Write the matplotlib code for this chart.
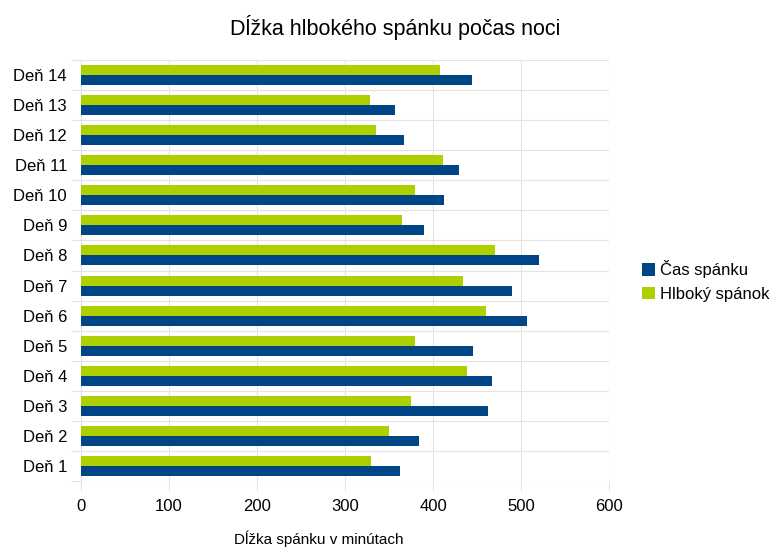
import matplotlib
matplotlib.use("Agg")
import matplotlib.pyplot as plt
import numpy as np

plt.rcParams['font.family'] = ['Liberation Sans', 'DejaVu Sans']

days = ["Deň 1", "Deň 2", "Deň 3", "Deň 4", "Deň 5", "Deň 6", "Deň 7",
        "Deň 8", "Deň 9", "Deň 10", "Deň 11", "Deň 12", "Deň 13", "Deň 14"]
cas_spanku = [362, 384, 463, 467, 445, 507, 490, 521, 390, 412, 430, 367, 357, 444]
hlboky_spanok = [329, 350, 375, 439, 380, 460, 434, 471, 365, 379, 411, 335, 328, 408]
x_ticks = [0, 100, 200, 300, 400, 500, 600]

blue = "#004586"
green = "#aecf00"
grid_col = "#e3e3e3"

fig = plt.figure(figsize=(7.78, 5.47), dpi=100)
ax = fig.add_axes([81/778, 1-481/547, (609-81)/778, (481-60)/547])

y = np.arange(len(days))
h = 1/3
ax.barh(y - h/2, cas_spanku, height=h, color=blue, label="Čas spánku", zorder=3)
ax.barh(y + h/2, hlboky_spanok, height=h, color=green, label="Hlboký spánok", zorder=3)

ax.set_xlim(0, 600)
ax.set_ylim(-0.5, len(days) - 0.5)
ax.set_xticks(x_ticks)
ax.set_yticks(y)
ax.set_yticklabels(days)
ax.set_yticks(np.arange(-0.5, len(days)), minor=True)

ax.tick_params(axis="y", which="major", length=0, labelsize=12, pad=10)
ax.tick_params(axis="y", which="minor", length=7, color=grid_col, width=0.8)
ax.tick_params(axis="x", length=7, color=grid_col, width=0.8, labelsize=12, pad=6)

ax.grid(axis="x", color=grid_col, linewidth=0.8, zorder=0)
ax.grid(axis="y", which="minor", color=grid_col, linewidth=0.8, zorder=0)

for s in ["top", "right", "bottom"]:
    ax.spines[s].set_visible(False)
ax.spines["left"].set_color(grid_col)
ax.spines["left"].set_linewidth(0.8)

fig.text(395/778, 1-28/547, "Dĺžka hlbokého spánku počas noci", ha="center", va="center", fontsize=15.5)
fig.text(319/778, 1-539/547, "Dĺžka spánku v minútach", ha="center", va="center", fontsize=11)

ax.legend(loc="center left", bbox_to_anchor=(627/778, 1-281/547), bbox_transform=fig.transFigure,
          frameon=False, fontsize=12, handlelength=0.75, handleheight=0.75, handletextpad=0.35,
          labelspacing=0.5)

plt.savefig("out.png", dpi=100)
